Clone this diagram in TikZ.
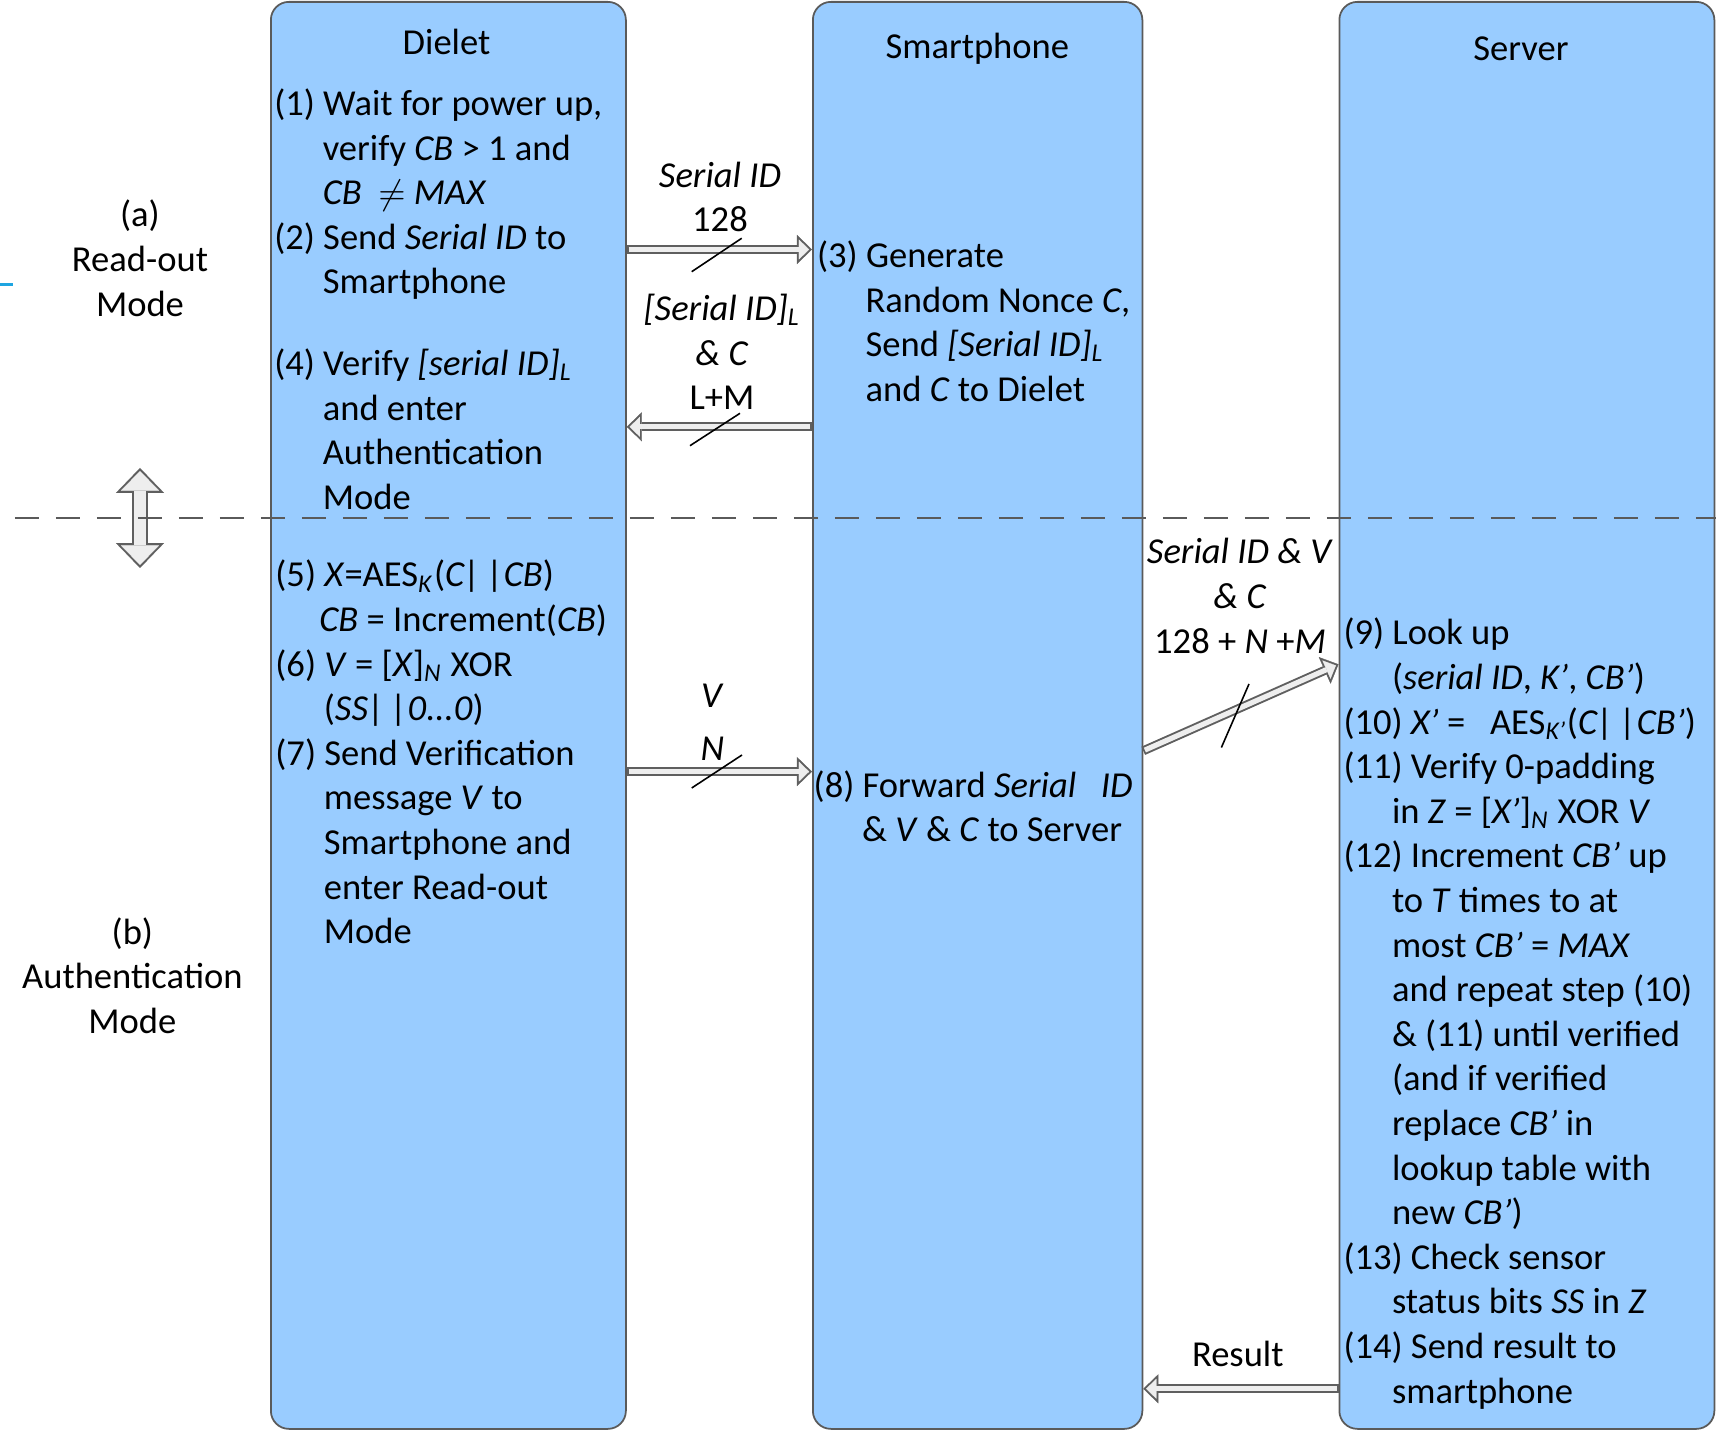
\documentclass[tikz,border=0pt]{standalone}
\usepackage{fontspec}
\setmainfont{Carlito}
\usepackage{tikz}
\usetikzlibrary{arrows.meta, positioning}
\definecolor{laneBlue}{RGB}{153,204,255}
\definecolor{laneLine}{RGB}{90,90,90}
\definecolor{arrFill}{RGB}{238,238,238}
\definecolor{arrLine}{RGB}{95,95,95}
\definecolor{tickCyan}{RGB}{30,165,225}
\newcommand{\ind}{\hspace*{4.85mm}}
\newcommand{\stepfont}{\fontsize{10.4}{12.69}\selectfont}

\begin{document}
\begin{tikzpicture}[
    lane/.style={rectangle, draw=laneLine, fill=laneBlue, line width=0.5pt,
        rounded corners=1.8mm, inner sep=0pt, anchor=north west},
    hdr/.style={font=\stepfont, inner sep=0pt},
    stepbox/.style={font=\stepfont, align=left, inner sep=0pt, anchor=north west},
    lbl/.style={font=\stepfont, align=center, inner sep=0pt},
    blk/.style={draw=arrFill, line width=1.46pt, shorten >=0.8pt, shorten <=0.5pt,
        -{Triangle[length=2.95pt, width=5.7pt, line width=0.1pt]},
        preaction={draw=arrLine, line width=2.56pt, shorten >=0pt, shorten <=0pt,
            -{Triangle[length=4.3pt, width=8.3pt, line width=0.1pt]}}},
    blkbig/.style={draw=arrFill, line width=3.35pt, shorten >=0.86pt, shorten <=0.86pt,
        {Triangle[length=5.6pt, width=10.9pt, line width=0.1pt]}-{Triangle[length=5.6pt, width=10.9pt, line width=0.1pt]},
        preaction={draw=arrLine, line width=4.55pt, shorten >=0pt, shorten <=0pt,
            {Triangle[length=7.1pt, width=13.7pt, line width=0.1pt]}-{Triangle[length=7.1pt, width=13.7pt, line width=0.1pt]}}},
    busmark/.style={draw=black, line width=0.45pt},
    modesep/.style={draw=laneLine, line width=0.55pt, dash pattern=on 2.4mm off 1.7mm}
]
\useasboundingbox (0,0) rectangle (17.16,-14.32);

% the three parties
\node[lane, minimum width=3.55cm, minimum height=14.27cm] (dielet) at (2.70,-0.01) {};
\node[lane, minimum width=3.295cm, minimum height=14.27cm] (phone) at (8.12,-0.01) {};
\node[lane, minimum width=3.75cm, minimum height=14.27cm] (server) at (13.385,-0.01) {};

\node[hdr] (dieletT) at (4.465,-0.416) {Dielet};
\node[hdr] (phoneT) at (9.773,-0.492) {Smartphone};
\node[hdr] (serverT) at (15.21,-0.492) {Server};

% mode labels
\node[lbl] (modeA) at (1.40,-2.583) {(a)\\Read-out\\Mode};
\node[lbl] (modeB) at (1.324,-9.755) {(b)\\Authentication\\Mode};
\draw[tickCyan, line width=0.9pt] (0,-2.845) -- (0.13,-2.845);

% dielet steps
\node[stepbox] (d1) at (2.736,-0.88)
    {(1) Wait for power up,\\
     \ind verify \textit{CB} > 1 and\\
     \ind \textit{CB}\ \ $\neq$ \textit{MAX}\\
     (2) Send \textit{Serial ID} to\\
     \ind Smartphone};
\node[stepbox] (d4) at (2.736,-3.48)
    {(4) Verify \textit{[serial ID]\textsubscript{L}}\\
     \ind and enter\\
     \ind Authentication\\
     \ind Mode};
\node[stepbox] (d5) at (2.747,-5.595)
    {(5) \textit{X}=AES\textsubscript{\textit{K}}(\textit{C|\,|CB})\\
     \hspace*{4.4mm}\textit{CB} = Increment(\textit{CB})\\
     (6) \textit{V} = [\textit{X}]\textsubscript{\textit{N}} XOR\\
     \ind (\textit{SS|\,|0...0})\\
     (7) Send Verification\\
     \ind message \textit{V} to\\
     \ind Smartphone and\\
     \ind enter Read-out\\
     \ind Mode};

% smartphone steps
\node[stepbox] (p3) at (8.164,-2.40)
    {(3) Generate\\
     \ind Random Nonce \textit{C},\\
     \ind Send \textit{[Serial ID]\textsubscript{L}}\\
     \ind and \textit{C} to Dielet};
\node[stepbox] (p8) at (8.13,-7.696)
    {(8) Forward \textit{Serial\ \ \ ID}\\
     \ind \& \textit{V} \& \textit{C} to Server};

% server steps
\node[stepbox] (s9) at (13.428,-6.175)
    {(9) Look up\\
     \ind (\textit{serial ID}, \textit{K’}, \textit{CB’})\\
     (10) \textit{X’} = \ \ AES\textsubscript{\textit{K’}}(\textit{C|\,|CB’})\\
     (11) Verify 0-padding\\
     \ind in \textit{Z} = [\textit{X’}]\textsubscript{\textit{N}} XOR \textit{V}\\
     (12) Increment \textit{CB’} up\\
     \ind to \textit{T} times to at\\
     \ind most \textit{CB’} = \textit{MAX}\\
     \ind and repeat step (10)\\
     \ind \& (11) until verified\\
     \ind (and if verified\\
     \ind replace \textit{CB’} in\\
     \ind lookup table with\\
     \ind new \textit{CB’})\\
     (13) Check sensor\\
     \ind status bits \textit{SS} in \textit{Z}\\
     (14) Send result to\\
     \ind smartphone};

% messages
\coordinate (y1) at (0,-2.495);
\coordinate (y2) at (0,-4.268);
\coordinate (y3) at (0,-7.716);
\coordinate (y4a) at (0,-7.508);
\coordinate (y4b) at (0,-6.643);
\coordinate (y5) at (0,-13.888);

\draw[blk] (dielet.east |- y1) -- (phone.west |- y1);
\draw[blk] (phone.west |- y2) -- (dielet.east |- y2);
\draw[blk] (dielet.east |- y3) -- (phone.west |- y3);
\draw[blk] (phone.east |- y4a) -- (server.west |- y4b);
\draw[blk] (server.west |- y5) -- (phone.east |- y5);

\draw[busmark] (6.917,-2.717) -- (7.417,-2.383);
\draw[busmark] (6.90,-4.457) -- (7.40,-4.133);
\draw[busmark] (6.917,-7.88) -- (7.42,-7.55);
\draw[busmark] (12.214,-7.475) -- (12.49,-6.84);

\node[lbl] (m1) at (7.20,-1.97) {\textit{Serial ID}\\128};
\node[lbl] (m2) at (7.22,-3.52) {\textit{[Serial ID]\textsubscript{L}}\\\textit{\& C}\\L+M};
\node[lbl] (m3) at (7.125,-7.22) {\textit{V}\\[0.8mm]\textit{N}};
\node[lbl] (m4) at (12.40,-5.96) {\textit{Serial ID \& V}\\\textit{\& C}\\128 + \textit{N} +\textit{M}};
\node[lbl] (m5) at (12.378,-13.538) {Result};

% mode switch
\coordinate (swTop) at (1.40,-4.68);
\coordinate (swBot) at (1.40,-5.68);
\draw[blkbig] (swTop) -- (swBot);

\draw[modesep] (0.15,-5.176) -- (17.16,-5.176);
\end{tikzpicture}
\end{document}
